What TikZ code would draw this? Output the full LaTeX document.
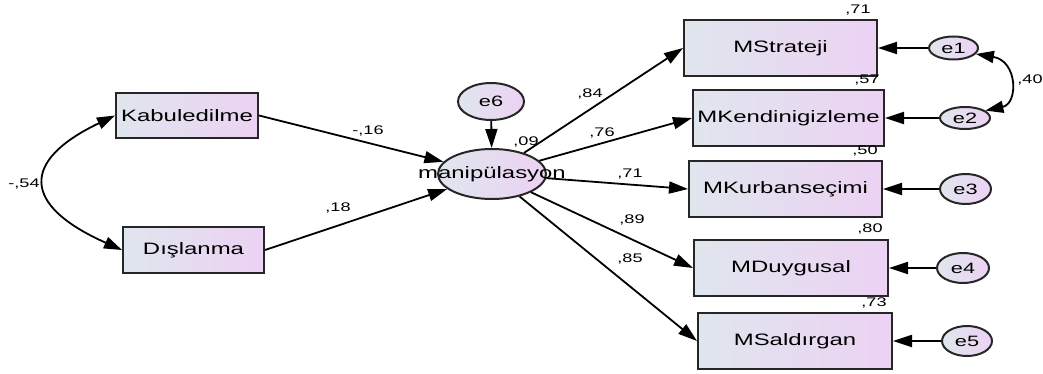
\documentclass[tikz,border=0pt]{standalone}
\usepackage{fontspec}
\setmainfont[FakeStretch=1.45]{Liberation Sans}
\usetikzlibrary{arrows.meta,shapes.geometric}
\definecolor{boxleft}{RGB}{224,230,238}
\definecolor{boxright}{RGB}{236,210,243}
\tikzset{
  obs/.style={draw=black!85, line width=2pt, left color=boxleft, right color=boxright,
    inner sep=0pt, font=\fontsize{16.5}{18}\selectfont},
  lat/.style={ellipse, draw=black!85, line width=2pt, left color=boxleft, right color=boxright,
    inner sep=0pt, font=\fontsize{15}{17}\selectfont},
  coef/.style={inner sep=0pt, font=\fontsize{12.5}{14}\selectfont},
  path/.style={line width=1.8pt, -{Triangle[length=19pt,width=12pt]}},
  cov/.style={line width=1.8pt, {Triangle[length=18pt,width=12pt]}-{Triangle[length=18pt,width=12pt]}}
}
\begin{document}
\begin{tikzpicture}[x=1pt, y=-1pt]
    \useasboundingbox (0, 0) rectangle (1043, 374);
    % exogenous
    \node [obs, minimum width=142pt, minimum height=45pt] (kab) at (187, 115.5) {Kabuledilme};
    \node [obs, minimum width=141pt, minimum height=46pt] (dis) at (193.5, 250) {Dışlanma};
    % latent
    \node [lat, minimum width=108pt, minimum height=50pt, font=\fontsize{16.5}{18}\selectfont] (man) at (492, 174) {\makebox[0pt]{manipülasyon}};
    \node [lat, minimum width=66pt, minimum height=37pt] (e6) at (491, 101.5) {e6};
    % indicators
    \node [obs, minimum width=193pt, minimum height=56pt] (mstr) at (780.5, 48) {MStrateji};
    \node [obs, minimum width=191pt, minimum height=56pt] (mken) at (788.5, 118) {MKendinigizleme};
    \node [obs, minimum width=193pt, minimum height=56pt] (mkur) at (785.5, 189) {MKurbanseçimi};
    \node [obs, minimum width=194pt, minimum height=56pt] (mduy) at (791, 268) {MDuygusal};
    \node [obs, minimum width=194pt, minimum height=56pt] (msal) at (795, 341) {MSaldırgan};
    % errors
    \node [lat, minimum width=49pt, minimum height=23pt] (e1) at (953.5, 48) {e1};
    \node [lat, minimum width=50pt, minimum height=22pt] (e2) at (965, 118) {e2};
    \node [lat, minimum width=51pt, minimum height=30pt] (e3) at (965.5, 189) {e3};
    \node [lat, minimum width=52pt, minimum height=30pt] (e4) at (963, 268) {e4};
    \node [lat, minimum width=50pt, minimum height=30pt] (e5) at (967, 341) {e5};

    \draw [path] (kab.east) -- (man);
    \draw [path] (dis.east) -- (man);
    \draw [path] (e6) -- (man);
    \draw [path] (man) -- (mstr.west);
    \draw [path] (man) -- (mken.west);
    \draw [path] (man) -- (mkur.west);
    \draw [path] (man) -- (mduy.west);
    \draw [path] (man) -- (msal.west);
    \draw [path] (e1) -- (mstr);
    \draw [path] (e2) -- (mken);
    \draw [path] (e3) -- (mkur);
    \draw [path] (e4) -- (mduy);
    \draw [path] (e5) -- (msal);
    \draw [cov] (kab.west) .. controls +(-94, 45) and +(-101, -45) .. (dis.west);
    \draw [cov] (e1.-15) .. controls +(42, 7) and +(33, -7) .. (e2.20);

    % coefficients
    \node [coef] (r1) at (858, 10) {,71};
    \node [coef] (r2) at (867, 80) {,57};
    \node [coef] (r3) at (865, 151) {,50};
    \node [coef] (r4) at (870, 229) {,80};
    \node [coef] (r5) at (874, 303) {,73};
    \node [coef] (r6) at (526, 142) {,09};
    \node [coef] (c12) at (1030, 80) {,40};
    \node [coef] (l1) at (590, 94) {,84};
    \node [coef] (l2) at (602, 133) {,76};
    \node [coef] (l3) at (630, 174) {,71};
    \node [coef] (l4) at (632, 220) {,89};
    \node [coef] (l5) at (630, 259) {,85};
    \node [coef] (g1) at (368, 131) {-,16};
    \node [coef] (g2) at (338, 208) {,18};
    \node [coef] (cx) at (24, 184) {-,54};
\end{tikzpicture}
\end{document}
